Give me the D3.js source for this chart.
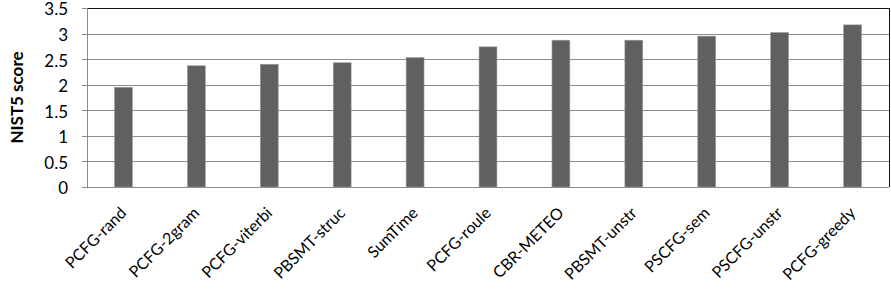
<!DOCTYPE html>
<html>
<head>
<meta charset="utf-8">
<script src="https://cdn.jsdelivr.net/npm/d3@7"></script>
<style>
  body { margin: 0; background: #fff; }
  text { font-family: Lato, "Open Sans", sans-serif; fill: #000; }
</style>
</head>
<body>
<div class="chart"></div>
<script>
const systems = ['PCFG-rand', 'PCFG-2gram', 'PCFG-viterbi', 'PBSMT-struc', 'SumTime', 'PCFG-roule',
  'CBR-METEO', 'PBSMT-unstr', 'PSCFG-sem', 'PSCFG-unstr', 'PCFG-greedy'];
const nistScores = [1.95, 2.37, 2.40, 2.43, 2.53, 2.74, 2.87, 2.87, 2.95, 3.02, 3.17];
const yTicks = [0, 0.5, 1, 1.5, 2, 2.5, 3, 3.5];

const width = 891;
const height = 306;
const margin = { top: 8, right: 2, bottom: 119, left: 87 };

const svg = d3.select('.chart')
  .append('svg')
  .attr('width', width)
  .attr('height', height);

const x = d3.scaleBand()
  .domain(systems)
  .range([margin.left, width - margin.right])
  .paddingInner(0.755)
  .paddingOuter(0.3775);

const y = d3.scaleLinear()
  .domain([0, 3.5])
  .range([height - margin.bottom, margin.top]);

// horizontal gridlines
svg.append('g')
  .selectAll('line')
  .data(yTicks)
  .enter()
  .append('line')
  .attr('x1', margin.left - 5)
  .attr('x2', width - margin.right)
  .attr('y1', d => Math.round(y(d)) + 0.5)
  .attr('y2', d => Math.round(y(d)) + 0.5)
  .attr('stroke', '#8c8c8c')
  .attr('stroke-width', 1);

// frame: dark top and right edges
svg.append('line')
  .attr('x1', margin.left).attr('x2', width - margin.right)
  .attr('y1', Math.round(y(3.5)) + 0.5).attr('y2', Math.round(y(3.5)) + 0.5)
  .attr('stroke', '#111');
svg.append('line')
  .attr('x1', width - margin.right + 0.5).attr('x2', width - margin.right + 0.5)
  .attr('y1', y(3.5)).attr('y2', y(0))
  .attr('stroke', '#111');

// y axis line
svg.append('line')
  .attr('x1', margin.left + 0.5).attr('x2', margin.left + 0.5)
  .attr('y1', y(3.5)).attr('y2', y(0))
  .attr('stroke', '#8c8c8c');

// bars
svg.append('g')
  .selectAll('rect')
  .data(nistScores)
  .enter()
  .append('rect')
  .attr('x', (d, i) => x(systems[i]))
  .attr('y', d => y(d))
  .attr('width', x.bandwidth())
  .attr('height', d => y(0) - y(d))
  .attr('fill', '#606060')
  .attr('stroke', '#9a9a9a')
  .attr('stroke-width', 0.6);

// y tick labels
svg.append('g')
  .selectAll('text')
  .data(yTicks)
  .enter()
  .append('text')
  .attr('x', 68)
  .attr('y', d => y(d) + 1.5)
  .attr('dy', '0.35em')
  .attr('text-anchor', 'end')
  .style('font-size', '17px')
  .text(d => d);

// x labels, rotated
svg.append('g')
  .selectAll('text')
  .data(systems)
  .enter()
  .append('text')
  .attr('transform', d => `translate(${x(d) + x.bandwidth() / 2 + 4},${y(0) + 27}) rotate(-45)`)
  .attr('text-anchor', 'end')
  .style('font-size', '16px')
  .text(d => d);

// y title
svg.append('text')
  .attr('transform', `translate(23,${(y(0) + y(3.5)) / 2}) rotate(-90)`)
  .attr('text-anchor', 'middle')
  .style('font-size', '17px')
  .style('font-weight', 'bold')
  .text('NIST5 score');
</script>
</body>
</html>
